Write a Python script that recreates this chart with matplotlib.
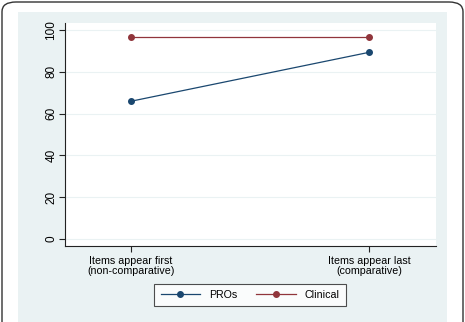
import matplotlib
matplotlib.use("Agg")
import matplotlib.pyplot as plt
from matplotlib.patches import FancyBboxPatch, Rectangle

plt.rcParams['font.family'] = ['Liberation Sans', 'DejaVu Sans']

# Data
categories = ["Items appear first\n(non-comparative)", "Items appear last\n(comparative)"]
pros = [65.9, 89.3]
clinical = [96.7, 96.7]
yticks = [0, 20, 40, 60, 80, 100]

navy = "#1a476f"
maroon = "#90353b"
bg = "#eaf2f3"

fig = plt.figure(figsize=(4.65, 3.22), dpi=100)
W, H = 465, 322

# outer rounded frame
frame = FancyBboxPatch((2 / W, -0.05), 461 / W, 1.05 - 2 / H,
                       boxstyle="round,pad=0,rounding_size=0.03",
                       transform=fig.transFigure, facecolor="white",
                       edgecolor="#333333", linewidth=1.0, zorder=0)
fig.patches.append(frame)
# stata graph region background
fig.patches.append(Rectangle((18 / W, 0), (447 - 18) / W, 1 - 12 / H,
                             transform=fig.transFigure, facecolor=bg,
                             edgecolor="none", zorder=0.5))

ax = fig.add_axes([65 / W, 1 - 246 / H, (436 - 65) / W, (246 - 23) / H])
ax.set_zorder(2)
ax.set_facecolor("white")

x = [1, 2]
ax.plot(x, pros, color=navy, lw=0.9, marker="o", ms=4, label="PROs")
ax.plot(x, clinical, color=maroon, lw=0.9, marker="o", ms=4, label="Clinical")

ax.set_xlim(0.723, 2.28)
ax.set_ylim(-3.3, 103.3)
ax.set_xticks(x)
ax.set_xticklabels(categories, fontsize=7.7, linespacing=1.0)
ax.set_yticks(yticks)
ax.set_yticklabels([str(v) for v in yticks], fontsize=8.5, rotation=90, va="center")
ax.grid(axis="y", color=bg, lw=0.8)
ax.set_axisbelow(True)
for s in ["top", "right"]:
    ax.spines[s].set_visible(False)
for s in ["left", "bottom"]:
    ax.spines[s].set_color("#222222")
    ax.spines[s].set_linewidth(0.8)
ax.tick_params(length=4, width=0.8, color="#222222", pad=3)
ax.tick_params(axis="y", pad=1.5)

leg = fig.legend(loc="center", bbox_to_anchor=(250 / W, 1 - 295 / H), ncol=2,
                 fontsize=7.7, frameon=True, fancybox=False, edgecolor="#222222",
                 handlelength=3.7, columnspacing=1.8, borderpad=0.6)
leg.get_frame().set_linewidth(0.8)
leg.set_zorder(3)

fig.savefig("out.png", dpi=100)
